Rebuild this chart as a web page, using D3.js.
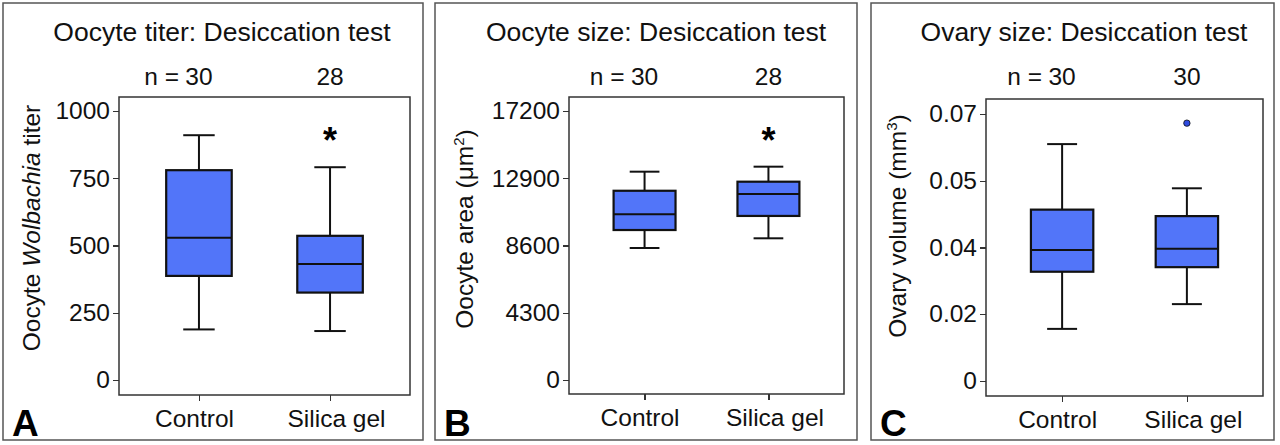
<!DOCTYPE html>
<html>
<head>
    <meta charset="utf-8">
    <script src="https://cdn.jsdelivr.net/npm/d3@7/dist/d3.min.js"></script>
    <style type="text/css">
        body { margin: 0; background: #fff; }
        svg { display: block; font-family: "Liberation Sans", Arial, sans-serif; }
        .axis path { display: none; }
        .axis line { stroke: #333; stroke-width: 1.3; shape-rendering: crispEdges; }
        .axis text { font-size: 24.5px; fill: #111; }
        .title { font-size: 26.5px; fill: #111; }
        .nlabel, .ylabel { font-size: 24.5px; fill: #111; }
        .letter { font-size: 37px; font-weight: bold; fill: #000; }
    </style>
</head>
<body>
<svg id="chart"></svg>
<script>
    // groups and counts
    var groups = ["Control", "Silica gel"];
    var titerN = [30, 28];
    var areaN = [30, 28];
    var volumeN = [30, 30];

    // boxes: [low whisker, q1, median, q3, high whisker]
    var titerBoxes = [[188, 387, 529, 780, 910], [182, 325, 431, 536, 791]];
    var areaBoxes = [[8440, 9590, 10600, 12100, 13320], [9060, 10490, 11890, 12680, 13640]];
    var volumeBoxes = [[0.0136, 0.0286, 0.0343, 0.0449, 0.0621], [0.0201, 0.0298, 0.0346, 0.0432, 0.0505]];
    var volumeOutliers = [[], [0.0676]];

    var titerTicks = [0, 250, 500, 750, 1000];
    var areaTicks = [0, 4300, 8600, 12900, 17200];
    var volumeTicks = [0, 0.0175, 0.035, 0.0525, 0.07];
    var volumeTickLabels = ["0", "0.02", "0.04", "0.05", "0.07"];

    var titerStars = [false, true];
    var areaStars = [false, true];
    var volumeStars = [false, false];

    var svg = d3.select("#chart").attr("width", 1280).attr("height", 445);

    var panels = [
        { letter: "A", title: "Oocyte titer: Desiccation test", n: titerN, boxes: titerBoxes, outliers: [[], []],
          ticks: titerTicks, labels: titerTicks.map(String), stars: titerStars,
          border: [3, 423], frame: [119, 410, 97, 395], yr: [380, 111], titleX: 222, ylabelX: 40, ylabelY: 228, ylabel: "titer" },
        { letter: "B", title: "Oocyte size: Desiccation test", n: areaN, boxes: areaBoxes, outliers: [[], []],
          ticks: areaTicks, labels: areaTicks.map(String), stars: areaStars,
          border: [435, 857], frame: [569, 844, 97, 394], yr: [380, 111], titleX: 656, ylabelX: 473, ylabelY: 229, ylabel: "area" },
        { letter: "C", title: "Ovary size: Desiccation test", n: volumeN, boxes: volumeBoxes, outliers: volumeOutliers,
          ticks: volumeTicks, labels: volumeTickLabels, stars: volumeStars,
          border: [871, 1274], frame: [986, 1263, 99, 396], yr: [380.7, 114], titleX: 1084, ylabelX: 906, ylabelY: 226, ylabel: "volume" }
    ];

    panels.forEach(function (p) {
        var g = svg.append("g");

        g.append("rect")
            .attr("x", p.border[0]).attr("y", 3)
            .attr("width", p.border[1] - p.border[0]).attr("height", 437)
            .attr("fill", "none").attr("stroke", "#555").attr("stroke-width", 1.5);

        var x = d3.scalePoint()
            .domain(groups)
            .range([p.frame[0], p.frame[1]])
            .padding(0.61);

        var y = d3.scaleLinear()
            .domain([0, p.ticks[p.ticks.length - 1]])
            .range(p.yr);

        var step = x.step(),
            bw = step * 0.5,
            cap = step * 0.24;

        // frame
        g.append("rect")
            .attr("x", p.frame[0]).attr("y", p.frame[2])
            .attr("width", p.frame[1] - p.frame[0]).attr("height", p.frame[3] - p.frame[2])
            .attr("fill", "none").attr("stroke", "#333").attr("stroke-width", 1.5);

        var yAxis = d3.axisLeft(y)
            .tickValues(p.ticks)
            .tickSize(6)
            .tickPadding(3)
            .tickFormat(function (d, i) { return p.labels[i]; });

        g.append("g")
            .attr("class", "axis")
            .attr("transform", "translate(" + p.frame[0] + ",0)")
            .call(yAxis);

        var xAxis = d3.axisBottom(x)
            .tickSize(6)
            .tickPadding(9);

        g.append("g")
            .attr("class", "axis")
            .attr("transform", "translate(0," + p.frame[3] + ")")
            .call(xAxis)
            .selectAll("text")
            .attr("dx", function (d, i) { return i == 0 ? -5 : 6; });

        // boxes
        var box = g.selectAll(".box")
            .data(p.boxes)
            .enter().append("g")
            .attr("class", "box");

        box.append("line")
            .attr("x1", function (d, i) { return x(groups[i]); })
            .attr("x2", function (d, i) { return x(groups[i]); })
            .attr("y1", function (d) { return y(d[0]); })
            .attr("y2", function (d) { return y(d[4]); })
            .attr("stroke", "#111").attr("stroke-width", 2);

        box.selectAll(".cap")
            .data(function (d, i) { return [[d[0], i], [d[4], i]]; })
            .enter().append("line")
            .attr("x1", function (d) { return x(groups[d[1]]) - cap / 2; })
            .attr("x2", function (d) { return x(groups[d[1]]) + cap / 2; })
            .attr("y1", function (d) { return y(d[0]); })
            .attr("y2", function (d) { return y(d[0]); })
            .attr("stroke", "#111").attr("stroke-width", 2);

        box.append("rect")
            .attr("x", function (d, i) { return x(groups[i]) - bw / 2; })
            .attr("y", function (d) { return y(d[3]); })
            .attr("width", bw)
            .attr("height", function (d) { return y(d[1]) - y(d[3]); })
            .attr("fill", "#5275f9").attr("stroke", "#111").attr("stroke-width", 2.2);

        box.append("line")
            .attr("x1", function (d, i) { return x(groups[i]) - bw / 2; })
            .attr("x2", function (d, i) { return x(groups[i]) + bw / 2; })
            .attr("y1", function (d) { return y(d[2]); })
            .attr("y2", function (d) { return y(d[2]); })
            .attr("stroke", "#111").attr("stroke-width", 2);

        p.outliers.forEach(function (vals, i) {
            g.selectAll(null)
                .data(vals)
                .enter().append("circle")
                .attr("cx", x(groups[i]))
                .attr("cy", function (d) { return y(d); })
                .attr("r", 3.2)
                .attr("fill", "#2e4be0").attr("stroke", "#111").attr("stroke-width", 0.8);
        });

        // significance stars
        p.stars.forEach(function (s, i) {
            if (!s) return;
            g.append("text")
                .attr("x", x(groups[i]))
                .attr("y", p.frame[2] + 56)
                .attr("text-anchor", "middle")
                .style("font-size", "36px")
                .style("font-weight", "bold")
                .text("*");
        });

        // n labels
        p.n.forEach(function (n, i) {
            g.append("text")
                .attr("class", "nlabel")
                .attr("x", x(groups[i]))
                .attr("y", 85)
                .attr("text-anchor", "middle")
                .text(n);
            if (i == 0) {
                g.append("text")
                    .attr("class", "nlabel")
                    .attr("x", x(groups[i]) - 20)
                    .attr("y", 85)
                    .attr("text-anchor", "end")
                    .text("n =");
            }
        });

        g.append("text")
            .attr("class", "title")
            .attr("x", p.titleX)
            .attr("y", 41)
            .attr("text-anchor", "middle")
            .text(p.title);

        var yl = g.append("text")
            .attr("class", "ylabel")
            .attr("text-anchor", "middle")
            .attr("transform", "translate(" + p.ylabelX + "," + p.ylabelY + ") rotate(-90)");

        if (p.ylabel == "titer") {
            yl.append("tspan").text("Oocyte ");
            yl.append("tspan").style("font-style", "italic").text("Wolbachia");
            yl.append("tspan").text(" titer");
        } else if (p.ylabel == "area") {
            yl.append("tspan").text("Oocyte area (\u03bcm");
            yl.append("tspan").style("font-size", "15px").attr("dy", -9).text("2");
            yl.append("tspan").attr("dy", 9).text(")");
        } else {
            yl.append("tspan").text("Ovary volume (mm");
            yl.append("tspan").style("font-size", "15px").attr("dy", -9).text("3");
            yl.append("tspan").attr("dy", 9).text(")");
        }

        g.append("text")
            .attr("class", "letter")
            .attr("x", p.border[0] + 9)
            .attr("y", 436)
            .text(p.letter);
    });
</script>
</body>
</html>
